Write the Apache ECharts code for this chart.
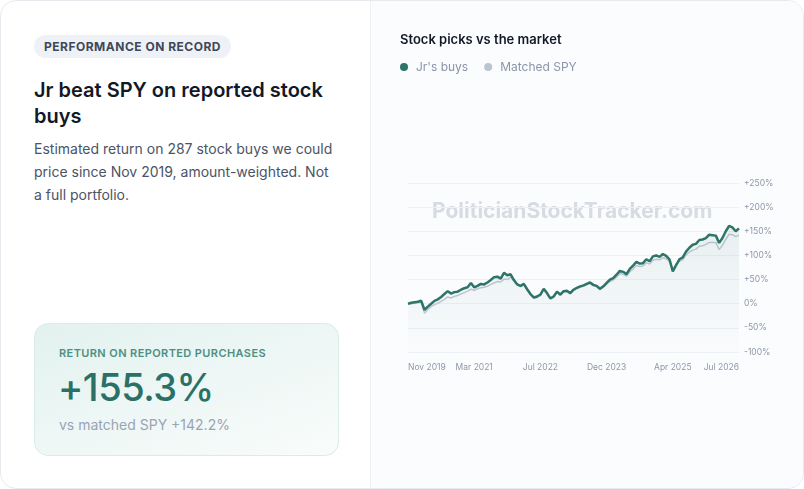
<!DOCTYPE html>
<html>
<head>
<meta charset="utf-8">
<script src="https://cdn.jsdelivr.net/npm/echarts@6/dist/echarts.min.js"></script>
<style>
  html, body { margin: 0; padding: 0; background: #ffffff; font-family: Inter, "Noto Sans", sans-serif; }
  .card { position: absolute; left: 0; top: 0; width: 802px; height: 487px; border: 1px solid #e6e9ee; border-radius: 16px; overflow: hidden; background: #fff; }
  .left { position: absolute; left: 0; top: 0; width: 369px; height: 487px; }
  .right { position: absolute; left: 369px; top: 0; width: 433px; height: 487px; background: #fbfcfe; border-left: 1px solid #eef0f4; }
  .badge { position: absolute; left: 33px; top: 34px; height: 23px; line-height: 23px; padding: 0 10px; border-radius: 12px; background: #eef2f7; color: #3e4859; font-size: 12px; font-weight: 700; letter-spacing: 0.5px; }
  h1 { position: absolute; left: 33px; top: 76px; width: 310px; margin: 0; font-size: 20px; line-height: 26px; font-weight: 600; color: #111827; }
  p.sub { position: absolute; left: 33px; top: 136px; width: 305px; margin: 0; font-size: 14px; line-height: 23px; color: #4a5466; }
  .box { position: absolute; left: 33px; top: 322px; width: 303px; height: 131px; border: 1px solid #d9ece8; border-radius: 14px; background: linear-gradient(160deg, #e2f2ef 0%, #f9fcfb 100%); }
  .box .k { position: absolute; left: 24px; top: 22px; font-size: 11px; font-weight: 600; letter-spacing: 0.4px; color: #4e8f84; }
  .box .v { position: absolute; left: 23px; top: 40px; font-size: 38px; line-height: 46px; font-weight: 500; color: #2b7067; letter-spacing: -0.5px; }
  .box .s { position: absolute; left: 24px; top: 92px; font-size: 14px; color: #9aa3b6; }
  #main { position: absolute; left: 0; top: 0; width: 433px; height: 487px; }
</style>
</head>
<body>
<div class="card">
  <div class="left">
    <div class="badge">PERFORMANCE ON RECORD</div>
    <h1>Jr beat SPY on reported stock buys</h1>
    <p class="sub">Estimated return on 287 stock buys we could price since Nov 2019, amount-weighted. Not a full portfolio.</p>
    <div class="box">
      <div class="k">RETURN ON REPORTED PURCHASES</div>
      <div class="v">+155.3%</div>
      <div class="s">vs matched SPY +142.2%</div>
    </div>
  </div>
  <div class="right">
    <div id="main"></div>
  </div>
</div>
<script>
// x-axis tick labels, shown at every 20th point
var tickLabels = ['Nov 2019', 'Mar 2021', 'Jul 2022', 'Dec 2023', 'Apr 2025', 'Jul 2026'];

// cumulative return, %
var jrBuys = [
  0, 2, 3, 4, 6, -13, -6, 0, 6, 9,
  14, 20, 26, 21, 24, 25, 29, 32, 34, 43,
  34, 37, 41, 40, 44, 49, 55, 56, 52, 64,
  59, 61, 49, 40, 37, 41, 30, 20, 13, 15,
  19, 31, 22, 11, 15, 25, 19, 26, 27, 22,
  29, 33, 36, 38, 41, 44, 39, 37, 31, 36,
  43, 50, 53, 60, 68, 66, 61, 72, 79, 87,
  83, 84, 92, 88, 98, 100, 97, 103, 99, 92,
  67, 80, 92, 96, 108, 116, 122, 124, 132, 133,
  136, 143, 142, 141, 126, 136, 150, 161, 158, 150,
  156
];
var matchedSpy = [
  0, 0, 1, 2, 3, -20, -12, -6, -2, 1,
  5, 9, 14, 12, 15, 17, 20, 23, 26, 30,
  28, 31, 33, 34, 36, 40, 43, 46, 45, 51,
  50, 55, 47, 39, 35, 39, 29, 19, 11, 13,
  17, 29, 20, 10, 13, 23, 17, 24, 25, 20,
  27, 31, 34, 36, 39, 42, 37, 35, 29, 34,
  40, 46, 49, 55, 62, 61, 57, 66, 72, 79,
  77, 78, 85, 82, 90, 92, 91, 95, 93, 87,
  70, 82, 88, 91, 101, 107, 111, 113, 119, 120,
  123, 127, 127, 127, 112, 121, 133, 144, 143, 139,
  142
];
var categories = jrBuys.map(function (v, i) { return i; });

var chartDom = document.getElementById('main');
var myChart = echarts.init(chartDom);
var option;

option = {
  animation: false,
  textStyle: { fontFamily: 'Inter' },
  title: {
    text: 'Stock picks vs the market',
    left: 29,
    top: 33,
    padding: 0,
    textStyle: { fontSize: 13, fontWeight: 600, color: '#111827' }
  },
  legend: {
    left: 29,
    top: 60,
    padding: 0,
    icon: 'circle',
    itemWidth: 8,
    itemHeight: 8,
    itemGap: 16,
    textStyle: { fontSize: 12, color: '#8b95a8', padding: [0, 0, 0, 3] },
    data: [
      { name: "Jr's buys", itemStyle: { color: '#2e7468' } },
      { name: 'Matched SPY', itemStyle: { color: '#bcc4d1' } }
    ]
  },
  graphic: [{
    type: 'text',
    left: 61,
    top: 200,
    silent: true,
    z: 0,
    style: {
      text: 'PoliticianStockTracker.com',
      fontSize: 21,
      fontWeight: 700,
      fontFamily: 'Inter',
      fill: 'rgba(150,158,175,0.35)'
    }
  }],
  grid: { left: 37, right: 65, top: 182, bottom: 136 },
  xAxis: {
    type: 'category',
    boundaryGap: false,
    data: categories,
    axisLine: { show: false },
    axisTick: { show: false },
    axisLabel: {
      interval: function (i) { return i % 20 === 0; },
      formatter: function (v, i) { return tickLabels[i / 20]; },
      fontSize: 8.5,
      color: '#8e97aa',
      margin: 11,
      alignMinLabel: 'left',
      alignMaxLabel: 'right'
    },
    splitLine: { show: false }
  },
  yAxis: {
    type: 'value',
    position: 'right',
    min: -100,
    max: 250,
    interval: 50,
    axisLine: { show: false },
    axisTick: { show: false },
    axisLabel: {
      fontSize: 8.5,
      color: '#8e97aa',
      margin: 5,
      formatter: function (v) { return v > 0 ? '+' + v + '%' : v + '%'; }
    },
    splitLine: { lineStyle: { color: '#edf0f4', width: 1 } }
  },
  series: [
    {
      name: 'Matched SPY',
      type: 'line',
      data: matchedSpy,
      showSymbol: false,
      smooth: false,
      lineStyle: { color: '#c3cad6', width: 1.5 },
      itemStyle: { color: '#bcc4d1' },
      z: 2
    },
    {
      name: "Jr's buys",
      type: 'line',
      data: jrBuys,
      showSymbol: false,
      smooth: false,
      lineStyle: { color: '#2e7468', width: 2.5 },
      itemStyle: { color: '#2e7468' },
      areaStyle: {
        origin: 'start',
        color: new echarts.graphic.LinearGradient(0, 0, 0, 1, [
          { offset: 0, color: 'rgba(46,116,104,0.13)' },
          { offset: 1, color: 'rgba(46,116,104,0.01)' }
        ])
      },
      z: 3
    }
  ]
};

option && myChart.setOption(option);
</script>
</body>
</html>
